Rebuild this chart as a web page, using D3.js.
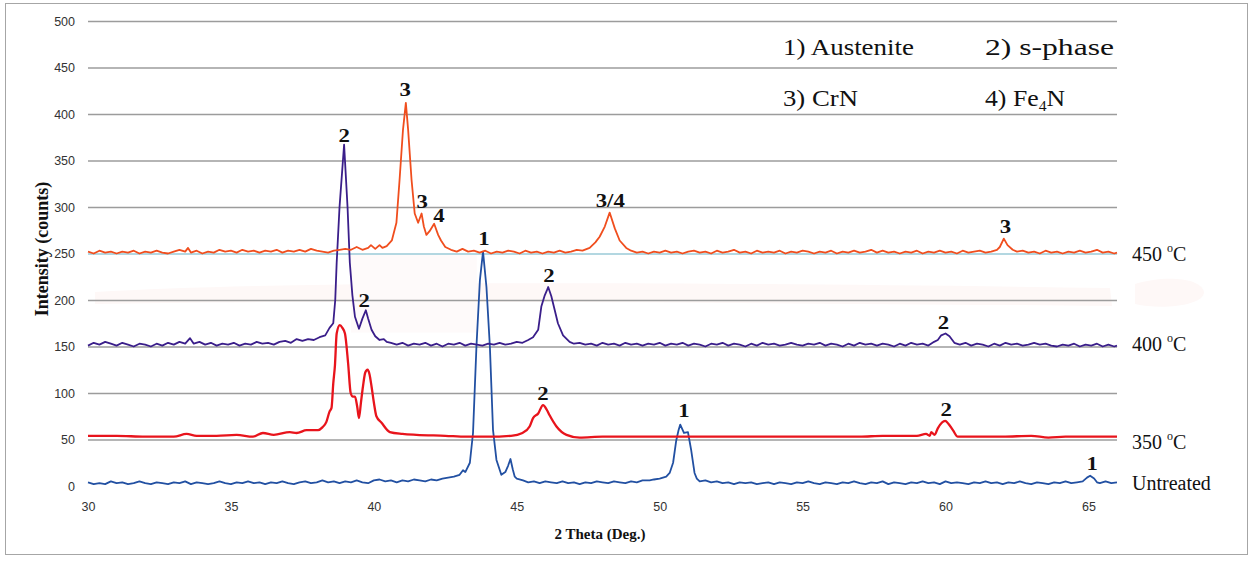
<!DOCTYPE html>
<html>
<head>
<meta charset="utf-8">
<script src="https://cdn.jsdelivr.net/npm/d3@7"></script>
<style>
  body { margin: 0; background: #fff; }
  svg { display: block; }
</style>
</head>
<body>
<div class="container"></div>
<script>
// XRD patterns, [2theta, counts]
var untreated = [
  [30.0,4],[30.2,2],[30.4,3],[30.6,2],[30.8,5],[31.0,3],[31.2,4],[31.4,2],[31.6,3],[31.8,5],
  [32.0,3],[32.2,2],[32.4,4],[32.6,3],[32.8,2],[33.0,4],[33.2,3],[33.4,5],[33.6,2],[33.8,4],
  [34.0,3],[34.2,2],[34.4,3],[34.6,5],[34.8,3],[35.0,2],[35.2,4],[35.4,3],[35.6,5],[35.8,3],
  [36.0,4],[36.2,2],[36.4,4],[36.6,3],[36.8,5],[37.0,3],[37.2,2],[37.4,4],[37.6,5],[37.8,3],
  [38.0,4],[38.2,6],[38.4,4],[38.6,5],[38.8,3],[39.0,5],[39.2,4],[39.4,6],[39.6,4],[39.8,3],
  [40.0,6],[40.2,7],[40.4,5],[40.6,6],[40.8,4],[41.0,6],[41.2,5],[41.4,7],[41.6,6],[41.8,5],
  [42.0,7],[42.2,6],[42.4,8],[42.6,9],[42.8,10],[43.0,12],[43.12,17],[43.2,15],[43.36,25],
  [43.47,57],[43.59,150],[43.71,221],[43.82,252],[43.94,214],[44.06,150],[44.17,60],[44.29,28],
  [44.46,12],[44.6,15],[44.7,22],[44.78,29],[44.86,18],[44.93,10],[45.0,8],[45.22,6],[45.4,4],
  [45.6,5],[45.8,3],[46.0,5],[46.2,4],[46.4,3],[46.6,5],[46.8,3],[47.0,4],[47.2,2],[47.4,4],
  [47.6,3],[47.8,5],[48.0,4],[48.2,3],[48.4,5],[48.6,4],[48.8,3],[49.0,5],[49.2,4],[49.4,6],
  [49.65,6],[49.8,7],[50.0,8],[50.23,10],[50.35,14],[50.47,25],[50.58,49],[50.66,60],[50.72,66],
  [50.85,57],[50.99,58],[51.1,39],[51.22,14],[51.3,8],[51.4,5],[51.6,6],[51.8,4],[52.0,5],
  [52.2,3],[52.4,4],[52.6,2],[52.8,4],[53.0,3],[53.2,4],[53.4,2],[53.6,3],[53.8,4],[54.0,2],
  [54.2,4],[54.4,3],[54.6,2],[54.8,4],[55.0,3],[55.2,5],[55.4,3],[55.6,2],[55.8,4],[56.0,3],
  [56.2,2],[56.4,4],[56.6,3],[56.8,5],[57.0,3],[57.2,2],[57.4,4],[57.6,3],[57.8,5],[58.0,2],
  [58.2,4],[58.4,3],[58.6,2],[58.8,4],[59.0,3],[59.2,5],[59.4,3],[59.6,4],[59.8,2],[60.0,5],
  [60.2,3],[60.4,4],[60.6,3],[60.8,2],[61.0,4],[61.2,3],[61.4,5],[61.6,3],[61.8,4],[62.0,2],
  [62.2,4],[62.4,3],[62.6,5],[62.8,3],[63.0,2],[63.2,4],[63.4,3],[63.6,2],[63.8,4],[64.0,3],
  [64.2,5],[64.4,3],[64.6,4],[64.8,5],[64.95,9],[65.06,11],[65.2,8],[65.3,4],[65.4,3],[65.6,5],
  [65.8,3],[66.0,4]
];

var t350 = [
  [30,54],[31,54],[32,53],[33,53],[33.45,56],[33.8,54],[34.5,54],[35.2,55],[35.77,53],[36.12,57],
  [36.5,55],[37.06,58],[37.3,57],[37.65,60],[38.05,60],[38.2,63],[38.34,69],[38.45,80],[38.52,84],
  [38.58,110],[38.64,130],[38.7,164],[38.81,173],[38.9,170],[38.99,164],[39.1,132],[39.19,100],
  [39.27,96],[39.34,96],[39.42,85],[39.48,73],[39.55,90],[39.62,107],[39.7,122],[39.78,125],
  [39.85,120],[39.92,107],[40.0,90],[40.09,75],[40.27,68],[40.56,58],[41.0,56],[41.49,55],
  [42.5,54],[43.24,53],[44.0,53],[44.8,54],[45.2,57],[45.45,64],[45.57,73],[45.75,78],[45.92,87],
  [46.05,82],[46.15,76],[46.39,64],[46.74,55],[47.2,52],[48,53],[49,53],[50,53],[51,53],[52,53],
  [53,53],[54,53],[55,53],[56,53],[57,53],[57.8,54],[58.5,54],[59.0,54],[59.32,56],[59.45,54],
  [59.5,58],[59.62,55],[59.73,62],[59.99,70],[60.1,67],[60.26,60],[60.43,53],[61,53],[62,53],
  [63,54],[63.6,52],[64.2,53],[65,53],[66,53]
];

var t400 = [
  [30.0,151],[30.2,154],[30.4,152],[30.6,155],[30.8,153],[31.0,151],[31.2,154],[31.4,152],
  [31.6,150],[31.8,153],[32.0,152],[32.2,150],[32.4,153],[32.6,151],[32.8,154],[33.0,152],
  [33.2,155],[33.4,153],[33.57,159],[33.7,153],[33.9,155],[34.1,152],[34.3,154],[34.5,151],
  [34.7,153],[34.9,152],[35.1,154],[35.3,151],[35.5,153],[35.7,152],[35.9,155],[36.1,153],
  [36.3,154],[36.5,152],[36.7,155],[36.9,156],[37.1,154],[37.3,158],[37.5,156],[37.7,158],
  [37.9,157],[38.1,160],[38.3,162],[38.45,170],[38.58,175],[38.65,200],[38.7,240],[38.8,300],
  [38.96,367],[39.08,300],[39.16,240],[39.25,205],[39.34,182],[39.48,169],[39.6,180],[39.72,189],
  [39.8,180],[39.92,168],[40.05,161],[40.2,157],[40.35,158],[40.45,155],[40.6,154],[40.8,152],
  [41.0,154],[41.2,151],[41.4,153],[41.6,152],[41.8,154],[42.0,151],[42.2,153],[42.4,150],
  [42.6,153],[42.8,152],[43.0,154],[43.2,151],[43.4,153],[43.6,152],[43.8,151],[44.0,153],
  [44.2,152],[44.4,154],[44.6,152],[44.8,153],[45.0,155],[45.2,154],[45.4,157],[45.57,160],
  [45.75,168],[45.86,193],[45.98,205],[46.05,210],[46.1,214],[46.21,204],[46.33,189],[46.44,175],
  [46.62,162],[46.85,155],[47.0,153],[47.2,154],[47.4,152],[47.6,153],[47.8,151],[48.0,154],
  [48.2,152],[48.4,153],[48.6,151],[48.8,154],[49.0,152],[49.2,153],[49.4,151],[49.6,153],
  [49.8,152],[50.0,154],[50.2,151],[50.4,153],[50.6,152],[50.8,154],[51.0,151],[51.2,153],
  [51.4,152],[51.6,150],[51.8,153],[52.0,152],[52.2,154],[52.4,151],[52.6,153],[52.8,152],
  [53.0,150],[53.2,153],[53.4,151],[53.6,154],[53.8,152],[54.0,153],[54.2,151],[54.4,152],
  [54.6,154],[54.8,152],[55.0,151],[55.2,153],[55.4,152],[55.6,154],[55.8,151],[56.0,153],
  [56.2,152],[56.4,150],[56.6,153],[56.8,151],[57.0,154],[57.2,152],[57.4,153],[57.6,151],
  [57.8,153],[58.0,152],[58.2,150],[58.4,153],[58.6,151],[58.8,154],[59.0,152],[59.2,153],
  [59.4,151],[59.6,155],[59.73,157],[59.85,162],[60.0,164],[60.14,161],[60.31,154],[60.5,152],
  [60.7,154],[60.9,151],[61.1,153],[61.3,152],[61.5,150],[61.7,153],[61.9,151],[62.1,154],
  [62.3,152],[62.5,153],[62.7,151],[62.9,152],[63.1,154],[63.3,152],[63.5,153],[63.7,151],
  [63.9,150],[64.1,152],[64.3,151],[64.5,153],[64.7,150],[64.9,152],[65.1,151],[65.3,153],
  [65.5,150],[65.7,152],[65.9,150],[66.0,151]
];

var t450 = [
  [30.0,252],[30.2,250],[30.4,253],[30.6,251],[30.8,252],[31.0,250],[31.2,252],[31.4,251],
  [31.6,253],[31.8,250],[32.0,252],[32.2,251],[32.4,253],[32.6,251],[32.8,250],[33.0,252],
  [33.2,254],[33.4,252],[33.5,256],[33.6,251],[33.8,253],[34.0,250],[34.2,252],[34.4,251],
  [34.6,254],[34.8,252],[35.0,253],[35.2,251],[35.4,254],[35.6,252],[35.8,253],[36.0,251],
  [36.2,253],[36.4,252],[36.6,254],[36.8,251],[37.0,253],[37.2,252],[37.4,254],[37.6,252],
  [37.8,255],[38.0,253],[38.2,252],[38.4,251],[38.6,253],[38.8,254],[39.0,255],[39.2,254],
  [39.4,257],[39.6,254],[39.8,256],[39.9,259],[40.05,255],[40.2,259],[40.3,256],[40.45,258],
  [40.63,264],[40.79,283],[40.9,329],[41.02,383],[41.12,412],[41.2,383],[41.32,329],[41.43,293],
  [41.55,283],[41.67,293],[41.75,279],[41.84,270],[41.95,274],[42.11,282],[42.25,270],[42.35,264],
  [42.5,257],[42.7,254],[42.9,252],[43.1,255],[43.3,252],[43.5,253],[43.7,251],[43.9,253],
  [44.1,250],[44.3,252],[44.5,251],[44.7,253],[44.9,252],[45.1,250],[45.3,253],[45.5,251],
  [45.7,252],[45.9,250],[46.1,252],[46.3,251],[46.5,253],[46.7,251],[46.9,252],[47.1,254],
  [47.3,253],[47.55,256],[47.75,262],[47.9,268],[48.08,279],[48.25,294],[48.43,277],[48.6,264],
  [48.83,256],[49.0,253],[49.2,251],[49.4,252],[49.6,250],[49.8,252],[50.0,251],[50.2,253],
  [50.4,251],[50.6,252],[50.8,250],[51.0,252],[51.2,253],[51.4,251],[51.6,252],[51.8,250],
  [52.0,253],[52.2,251],[52.4,252],[52.6,254],[52.8,251],[53.0,252],[53.2,250],[53.4,253],
  [53.6,251],[53.8,252],[54.0,251],[54.2,253],[54.4,250],[54.6,252],[54.8,251],[55.0,253],
  [55.2,252],[55.4,250],[55.6,252],[55.8,251],[56.0,253],[56.2,250],[56.4,252],[56.6,251],
  [56.8,253],[57.0,251],[57.2,252],[57.4,254],[57.6,251],[57.8,253],[58.0,251],[58.2,252],
  [58.4,250],[58.6,252],[58.8,251],[59.0,253],[59.2,250],[59.4,252],[59.6,251],[59.8,253],
  [60.0,251],[60.2,252],[60.4,250],[60.6,253],[60.8,251],[61.0,252],[61.2,253],[61.4,251],
  [61.6,252],[61.8,254],[61.9,257],[62.04,266],[62.17,259],[62.35,254],[62.5,252],[62.7,253],
  [62.9,251],[63.1,252],[63.3,250],[63.5,253],[63.7,251],[63.9,252],[64.1,250],[64.3,252],
  [64.5,251],[64.7,253],[64.9,251],[65.1,252],[65.3,254],[65.5,251],[65.7,252],[65.9,250],
  [66.0,251]
];

// phase labels: [2theta, counts at label baseline, text]
var peakLabels = [
  [38.96, 370, "2"], [41.1, 419, "3"], [41.69, 299, "3"], [42.28, 284, "4"],
  [48.27, 300, "3/4"], [43.85, 259, "1"], [39.66, 192, "2"], [46.13, 219, "2"],
  [45.92, 92, "2"], [50.85, 74, "1"], [59.93, 169, "2"], [60.02, 75, "2"],
  [62.1, 272, "3"], [65.13, 17, "1"]
];

var seriesNames = ["Untreated", "350", "400", "450"];
var seriesLabelY = [0, 50, 152, 250];   // counts where the right hand name sits
var xTicks = [30, 35, 40, 45, 50, 55, 60, 65];
var yTicks = [0, 50, 100, 150, 200, 250, 300, 350, 400, 450, 500];
var legendItems = [["1) Austenite", 131], ["2) s-phase", 129], ["3) CrN", 75], ["4) Fe", 83]];

var width = 1253, height = 562;

var x = d3.scaleLinear().domain([30, 66]).range([88, 1117]);
var y = d3.scaleLinear().domain([0, 500]).range([486, 21]);

var svg = d3.select('.container')
  .append('svg')
  .attr('width', width)
  .attr('height', height);

svg.append('rect')
  .attr('x', 5.5).attr('y', 3.5)
  .attr('width', 1242).attr('height', 551)
  .attr('fill', '#fff')
  .attr('stroke', '#a6a6a6');

// faint pink smudges left in the original picture
var smudge = svg.append('g').attr('fill', '#fef8f7');
smudge.append('path')
  .attr('d', 'M95,292 C300,280 700,282 1110,288 L1112,306 C700,302 300,300 95,304 Z');
smudge.append('path')
  .attr('d', 'M1135,284 C1160,276 1200,276 1204,292 C1204,306 1160,310 1135,304 Z');
smudge.append('rect')
  .attr('x', x(39.2)).attr('y', y(250))
  .attr('width', x(43.6) - x(39.2)).attr('height', y(165) - y(250))
  .attr('fill', '#fefafa');

// y axis with gridlines
var yAxis = svg.append('g')
  .attr('transform', 'translate(88,0)')
  .call(d3.axisLeft(y).tickValues(yTicks).tickSize(-(1117 - 88)).tickPadding(13));
yAxis.select('.domain').remove();
yAxis.selectAll('.tick line')
  .attr('stroke', function (d) { return d === 250 ? '#b3d7e1' : '#9c9c9c'; })
  .attr('stroke-width', function (d) { return d === 250 ? 2 : 1.3; })
  .attr('opacity', function (d) { return d === 0 ? 0 : 1; });
yAxis.selectAll('.tick text')
  .attr('font-family', 'Liberation Sans, Arial, sans-serif')
  .attr('font-size', 12.5)
  .attr('fill', '#333');

var xAxis = svg.append('g')
  .attr('transform', 'translate(0,486)')
  .call(d3.axisBottom(x).tickValues(xTicks).tickSize(0).tickPadding(16));
xAxis.select('.domain').remove();
xAxis.selectAll('.tick text')
  .attr('font-family', 'Liberation Sans, Arial, sans-serif')
  .attr('font-size', 12.5)
  .attr('fill', '#333');

// traces
var line = d3.line()
  .x(function (d) { return x(d[0]); })
  .y(function (d) { return y(d[1]); });

var traces = [
  { data: untreated, color: '#2250a2', w: 1.8, curve: d3.curveLinear },
  { data: t350, color: '#e8141c', w: 2.3, curve: d3.curveMonotoneX },
  { data: t400, color: '#3a1e8a', w: 1.8, curve: d3.curveLinear },
  { data: t450, color: '#f04e1e', w: 1.8, curve: d3.curveLinear }
];

svg.append('g')
  .attr('fill', 'none')
  .attr('stroke-linejoin', 'round')
  .selectAll('path')
  .data(traces)
  .join('path')
  .attr('stroke', function (d) { return d.color; })
  .attr('stroke-width', function (d) { return d.w; })
  .attr('d', function (d) { return line.curve(d.curve)(d.data); });

// peak labels
svg.append('g')
  .attr('font-family', 'Liberation Serif, Times New Roman, serif')
  .attr('font-weight', 'bold')
  .attr('font-size', 19)
  .attr('fill', '#111')
  .attr('text-anchor', 'middle')
  .selectAll('text')
  .data(peakLabels)
  .join('text')
  .attr('transform', function (d) {
    return 'translate(' + x(d[0]) + ',' + y(d[1]) + ') scale(1.2,1)';
  })
  .text(function (d) { return d[2]; });

// series names at the right
var names = svg.append('g')
  .attr('font-family', 'Liberation Serif, Times New Roman, serif')
  .attr('font-size', 20)
  .attr('fill', '#111')
  .selectAll('text')
  .data(seriesNames)
  .join('text')
  .attr('x', 1132)
  .attr('y', function (d, i) { return y(seriesLabelY[i]) + [4, 9, 6, 7][i]; });
names.each(function (d) {
  var t = d3.select(this);
  if (d === 'Untreated') { t.text(d); return; }
  t.append('tspan').text(d + ' ');
  t.append('tspan').attr('font-size', 12).attr('dy', -9).text('o');
  t.append('tspan').attr('dy', 9).text('C');
});

// legend of phases
var legend = svg.append('g')
  .attr('font-family', 'Liberation Serif, Times New Roman, serif')
  .attr('font-size', 23)
  .attr('fill', '#111');
legend.selectAll('text')
  .data(legendItems)
  .join('text')
  .attr('x', function (d, i) { return i % 2 ? 985 : 783; })
  .attr('y', function (d, i) { return i < 2 ? 55 : 106; })
  .attr('textLength', function (d) { return d[1]; })
  .attr('lengthAdjust', 'spacingAndGlyphs')
  .each(function (d, i) {
    var t = d3.select(this);
    t.text(d[0]);
    if (i === 3) {
      t.attr('textLength', null);
      t.attr('transform', 'translate(985,106) scale(1.12,1) translate(-985,-106)');
      t.append('tspan').attr('font-size', 14).attr('dy', 5).text('4');
      t.append('tspan').attr('dy', -5).text('N');
    }
  });

// axis titles
svg.append('text')
  .attr('transform', 'translate(48,249) rotate(-90)')
  .attr('text-anchor', 'middle')
  .attr('font-family', 'Liberation Serif, Times New Roman, serif')
  .attr('font-weight', 'bold')
  .attr('font-size', 18)
  .attr('fill', '#111')
  .text('Intensity (counts)');

svg.append('text')
  .attr('x', 600)
  .attr('y', 539)
  .attr('text-anchor', 'middle')
  .attr('font-family', 'Liberation Serif, Times New Roman, serif')
  .attr('font-weight', 'bold')
  .attr('font-size', 15)
  .attr('fill', '#111')
  .text('2 Theta (Deg.)');
</script>
</body>
</html>
